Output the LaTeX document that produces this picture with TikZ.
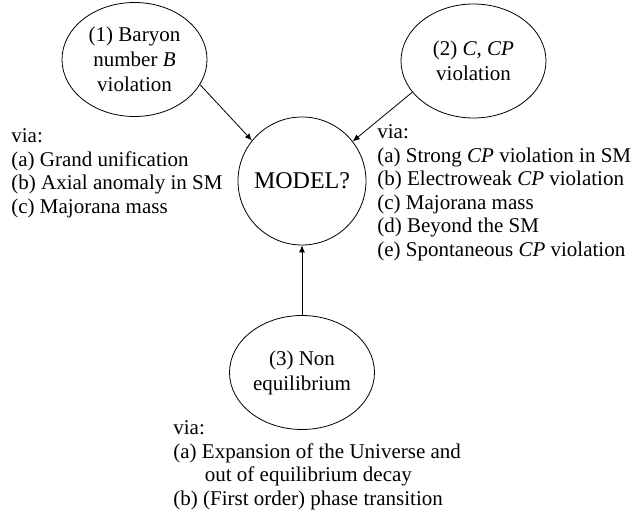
\documentclass[tikz,border=0pt]{standalone}
\usepackage{fontspec}
\setmainfont{Liberation Serif}
\usetikzlibrary{shapes.geometric, positioning, arrows.meta}

\begin{document}
\begin{tikzpicture}[x=0.5pt, y=-0.5pt, on grid, >={Latex[length=3.5pt, width=3pt]},
    cause/.style={draw, thin, ellipse, minimum width=72.5pt, minimum height=57pt,
      inner sep=0pt, align=center, font=\fontsize{10.5}{12.5}\selectfont},
    model/.style={draw, thin, circle, minimum size=64pt, inner sep=0pt,
      font=\fontsize{12}{14}\selectfont},
    list/.style={anchor=north west, inner sep=0pt, align=left,
      font=\fontsize{10.5}{11.75}\selectfont}]
  \useasboundingbox (0,0) rectangle (634,518);
  \node[model] (M) at (302,181) {MODEL?};
  \node[cause] (B) [above left=60.75pt and 83.75pt of M] {(1) Baryon\\number \textit{B}\\violation};
  \node[cause] (CP) [above right=60pt and 85.75pt of M] {(2) \textit{C}, \textit{CP}\\violation};
  \node[cause] (NE) [below=95.75pt of M] {(3) Non\\equilibrium};
  \path[->, thin]
    (B.-21) edge (M.141.5)
    (CP.207.5) edge (M.38.8)
    (NE.north) edge (M.south);
  % the three lists of ways
  \node[list] (viaB) at (11,128.6) {via:\\(a) Grand unification\\(b) Axial anomaly in SM\\(c) Majorana mass};
  \node[list] (viaCP) at (377,124.6) {via:\\(a) Strong \textit{CP} violation in SM\\(b) Electroweak \textit{CP} violation\\(c) Majorana mass\\(d) Beyond the SM\\(e) Spontaneous \textit{CP} violation};
  \node[list] (viaNE) at (173,420.6) {via:\\(a) Expansion of the Universe and\\\hspace*{1.5em}out of equilibrium decay\\(b) (First order) phase transition};
\end{tikzpicture}
\end{document}
